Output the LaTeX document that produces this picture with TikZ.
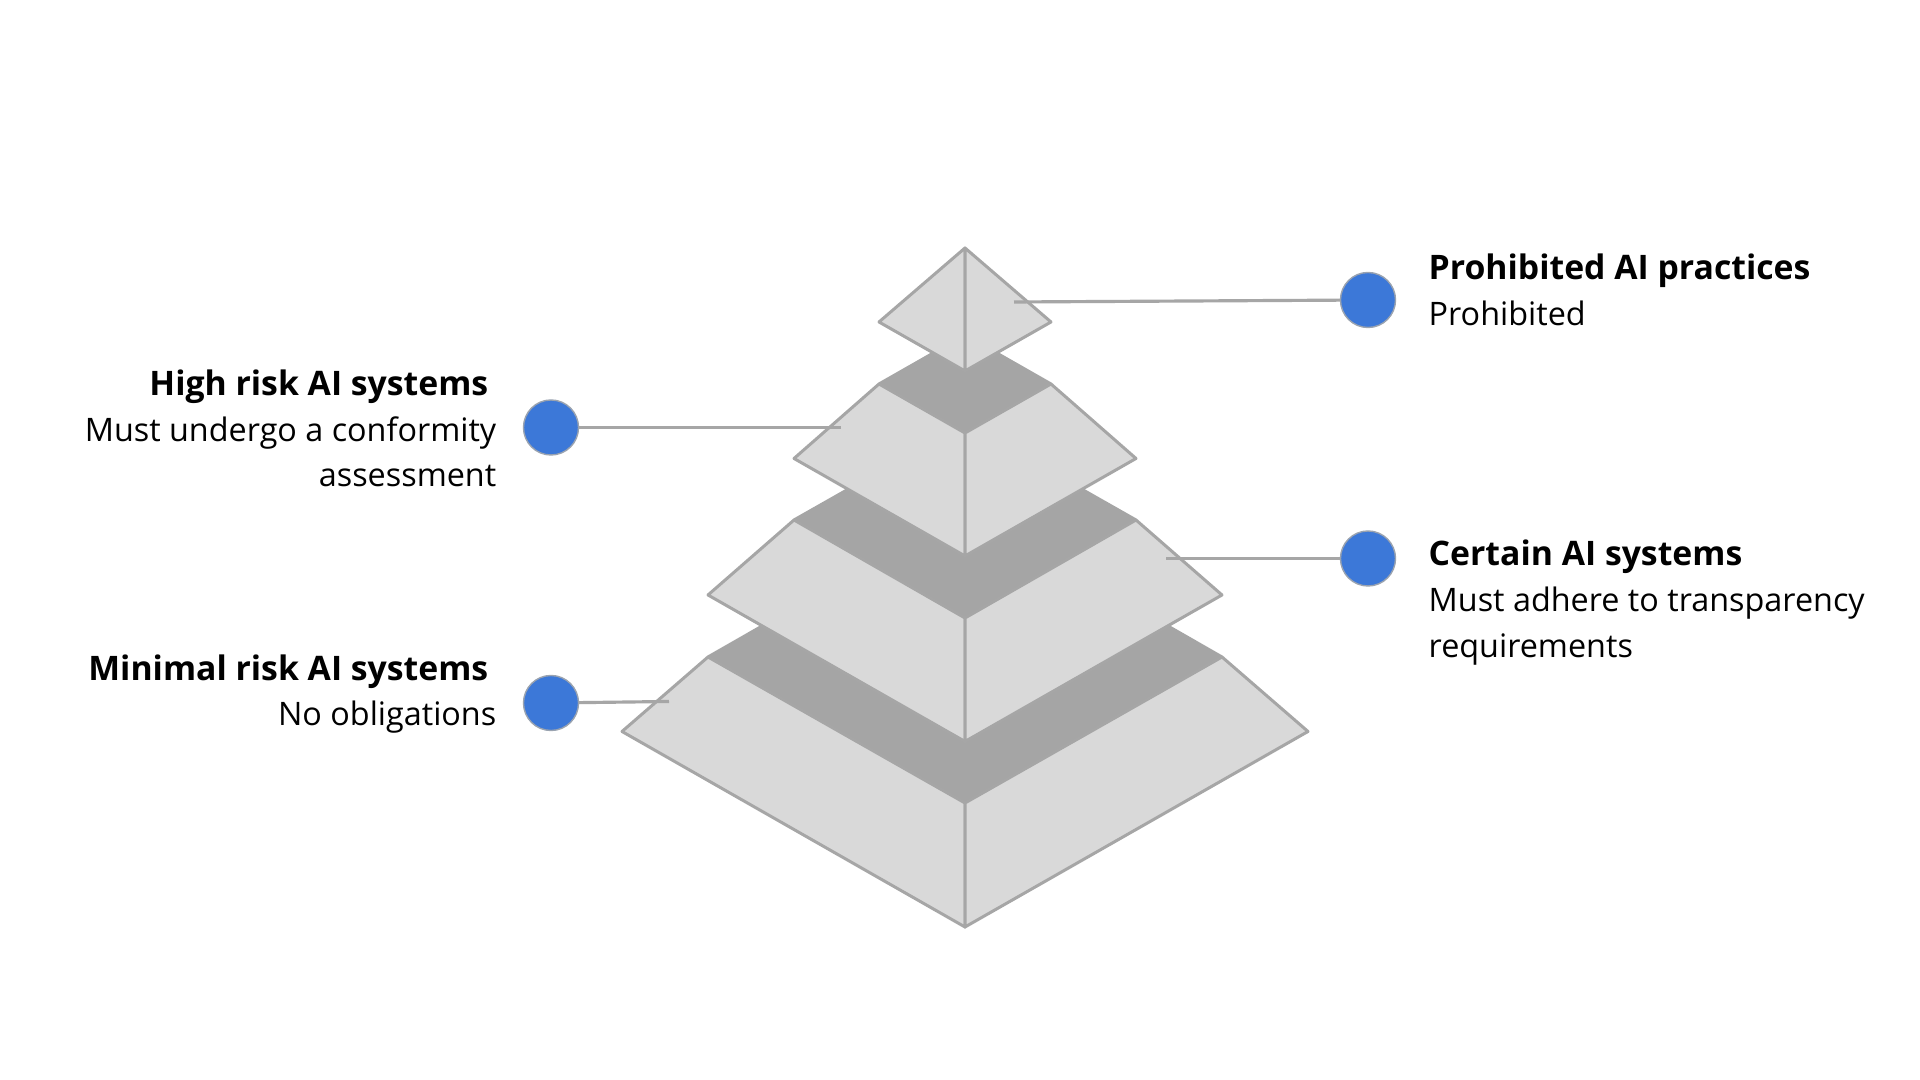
\documentclass[tikz,border=0pt]{standalone}
\usepackage{fontspec}
\setmainfont{Open Sans}
\definecolor{facegray}{HTML}{D9D9D9}
\definecolor{bandgray}{HTML}{A5A5A5}
\definecolor{linegray}{HTML}{A6A6A6}
\definecolor{dotblue}{HTML}{3C78D8}
\definecolor{dotrim}{HTML}{9AA3B0}
\begin{document}
\begin{tikzpicture}[x=0.01cm,y=-0.01cm,
  sideface/.style={fill=facegray,draw=linegray,line width=0.85pt,line join=round},
  topband/.style={fill=bandgray,draw=bandgray,line width=0.85pt,line join=round},
  bluedot/.style={circle,fill=dotblue,draw=dotrim,line width=0.4pt,minimum size=0.55cm,inner sep=0pt},
  leader/.style={draw=linegray,line width=0.9pt},
  headtext/.style={inner sep=0pt,font=\fontsize{9.6pt}{12.95pt}\selectfont\bfseries},
  bodytext/.style={inner sep=0pt,font=\fontsize{9.2pt}{12.95pt}\selectfont}]
\useasboundingbox[fill=white] (0,0) rectangle (1920,1080);

% bottom tier
\draw[topband]  (708,657) -- (965,510) -- (1222,657) -- (965,803) -- cycle;
\draw[sideface] (708,657) -- (622,731.5) -- (965,927) -- (965,803) -- cycle;
\draw[sideface] (1222,657) -- (1308,731.5) -- (965,927) -- (965,803) -- cycle;
% third tier
\draw[topband]  (794,520) -- (965,423) -- (1136,520) -- (965,618) -- cycle;
\draw[sideface] (794,520) -- (708,595) -- (965,741.5) -- (965,618) -- cycle;
\draw[sideface] (1136,520) -- (1222,595) -- (965,741.5) -- (965,618) -- cycle;
% second tier
\draw[topband]  (879,384) -- (965,335) -- (1051,384) -- (965,433) -- cycle;
\draw[sideface] (879,384) -- (794,458.5) -- (965,556) -- (965,433) -- cycle;
\draw[sideface] (1051,384) -- (1136,458.5) -- (965,556) -- (965,433) -- cycle;
% top
\draw[sideface] (965,248) -- (879,322) -- (965,371) -- cycle;
\draw[sideface] (965,248) -- (1051,322) -- (965,371) -- cycle;

\coordinate (eprohib)  at (1014,302);
\coordinate (ecertain) at (1166,558.5);
\coordinate (ehigh)    at (841,427.5);
\coordinate (eminimal) at (669,701.5);

\node (dprohib)  at (1368,300)   [bluedot] {};
\node (dcertain) at (1368,558.5) [bluedot] {};
\node (dhigh)    at (551,427.5)  [bluedot] {};
\node (dminimal) at (551,703)    [bluedot] {};

\draw[leader] (eprohib)  -- (dprohib);
\draw[leader] (ecertain) -- (dcertain);
\draw[leader] (ehigh)    -- (dhigh);
\draw[leader] (eminimal) -- (dminimal);

% multi-line texts sit on the baseline of their last line
\node (tprohib)  at (1428,280)   [headtext,anchor=base west] {Prohibited AI practices};
\node (bprohib)  at (1428,325.5) [bodytext,anchor=base west] {Prohibited};
\node (tcertain) at (1428,565.5) [headtext,anchor=base west] {Certain AI systems};
\node (bcertain) at (1428,657.5) [bodytext,anchor=base west,align=left] {Must adhere to transparency\\requirements};
\node (thigh)    at (489,395.5)  [headtext,anchor=base east] {High risk AI systems};
\node (bhigh)    at (497,487)    [bodytext,anchor=base east,align=right] {Must undergo a conformity\\assessment};
\node (tminimal) at (489,681)    [headtext,anchor=base east] {Minimal risk AI systems};
\node (bminimal) at (497,726)    [bodytext,anchor=base east] {No obligations};
\end{tikzpicture}
\end{document}
